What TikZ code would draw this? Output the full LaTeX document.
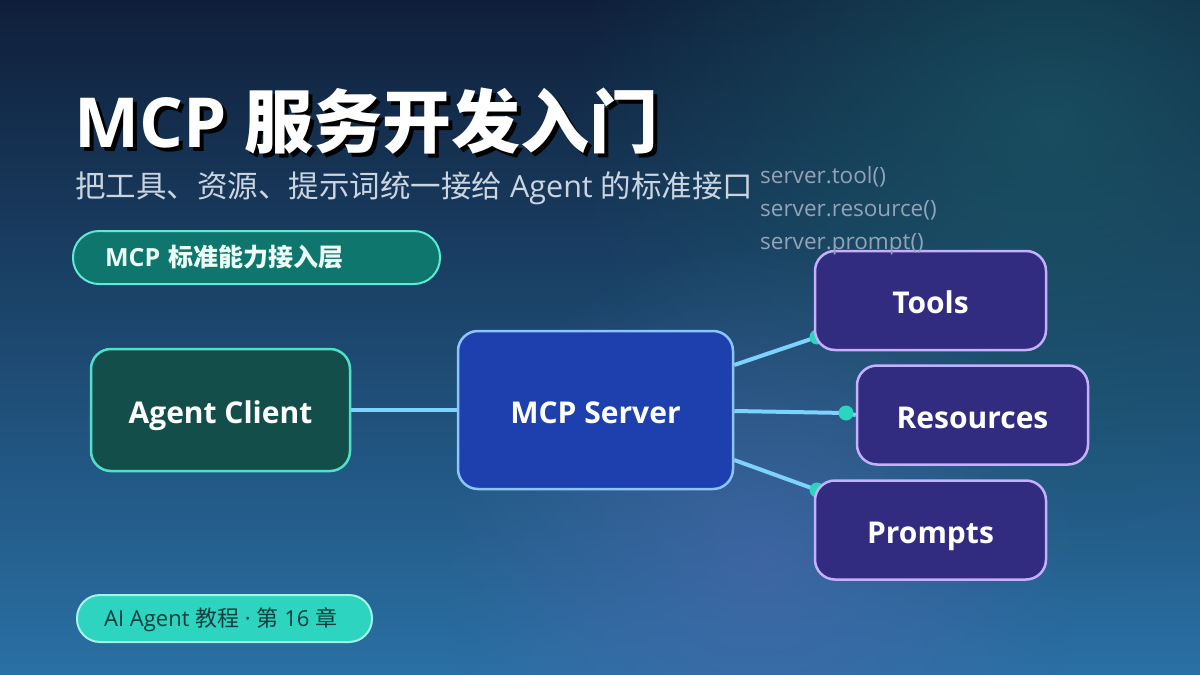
\documentclass[tikz,border=0pt]{standalone}
\usepackage{fontspec}
\setmainfont{Open Sans}
\newfontfamily\cjk{Noto Sans CJK SC}
\usetikzlibrary{fadings}
\tikzfading[name=softglow, inner color=transparent!0, outer color=transparent!100]
\pgfdeclarelayer{back}
\pgfdeclarelayer{mid}
\pgfsetlayers{back,mid,main}
\definecolor{bgtop}{HTML}{0F1F3A}
\definecolor{bgbot}{HTML}{2A70A4}
\definecolor{glowteal}{HTML}{1A5A66}
\definecolor{glowviolet}{HTML}{4C68AC}
\definecolor{clientfill}{HTML}{134E4A}
\definecolor{clientdraw}{HTML}{4FE0C8}
\definecolor{serverfill}{HTML}{1E40AF}
\definecolor{serverdraw}{HTML}{8CC4FC}
\definecolor{capfill}{HTML}{312C80}
\definecolor{capdraw}{HTML}{C4B0FC}
\definecolor{conncol}{HTML}{7DD3FC}
\definecolor{dotcol}{HTML}{2DD4BF}
\definecolor{pillAfill}{HTML}{0F766E}
\definecolor{pillAdraw}{HTML}{5EEAD4}
\definecolor{pillAtext}{HTML}{ECFDF5}
\definecolor{pillBfill}{HTML}{2DD4BF}
\definecolor{pillBdraw}{HTML}{A5F3E8}
\definecolor{pillBtext}{HTML}{0F3D3E}
\definecolor{subcol}{HTML}{CBD5E1}
\definecolor{codecol}{HTML}{94A3B8}
\tikzset{
  boxbase/.style={rectangle, rounded corners=20pt, line width=2.5pt, text=white,
    font=\bfseries\fontsize{30}{34}\selectfont, inner sep=0pt,
    text height=26.5pt, text depth=0pt},
  clientbox/.style={boxbase, fill=clientfill, draw=clientdraw, minimum width=259pt, minimum height=122pt},
  serverbox/.style={boxbase, fill=serverfill, draw=serverdraw, minimum width=275pt, minimum height=158pt},
  capbox/.style={boxbase, fill=capfill, draw=capdraw, minimum width=231pt, minimum height=99pt},
  conn/.style={draw=conncol, line width=4pt},
  dotmark/.style={fill=dotcol},
  codetext/.style={anchor=base west, text=codecol, font=\fontsize{22.5}{26}\selectfont, inner sep=0pt},
  pillA/.style={rectangle, rounded corners=26pt, fill=pillAfill, draw=pillAdraw, line width=2pt,
    minimum height=53pt, inner xsep=32pt, text width=303pt, align=left, text=pillAtext,
    font=\bfseries\fontsize{25}{30}\selectfont},
  pillB/.style={rectangle, rounded corners=23pt, fill=pillBfill, draw=pillBdraw, line width=2pt,
    minimum height=47pt, minimum width=295pt, inner sep=0pt},
  pillBlabel/.style={anchor=west, inner sep=0pt, text=pillBtext, font=\fontsize{22}{26}\selectfont}
}
\begin{document}
\begin{tikzpicture}[x=1pt,y=-1pt]
\useasboundingbox (0,0) rectangle (1200,675);
\begin{pgfonlayer}{back}
  \shade[top color=bgtop, bottom color=bgbot] (0,0) rectangle (1200,675);
  \fill[glowteal, path fading=softglow, opacity=0.7] (1050,120) circle (480);
  \fill[glowviolet, path fading=softglow, opacity=0.6] (760,560) circle (320);
\end{pgfonlayer}

% title
\node[anchor=base west, inner sep=0pt, text=black, font=\bfseries\fontsize{69}{78}\selectfont] (titleshadow) at (78,151) {MCP {\cjk\bfseries 服务开发入门}};
\node[anchor=base west, inner sep=0pt, text=white, font=\bfseries\fontsize{69}{78}\selectfont] (title) at (74,147) {MCP {\cjk\bfseries 服务开发入门}};
\node[anchor=base west, inner sep=0pt, text=subcol, font=\fontsize{30.5}{34}\selectfont] (subtitle) at (75,197) {{\cjk 把工具、资源、提示词统一接给} Agent {\cjk 的标准接口}};

% pills
\node[pillA] (layer) at (256.5,257.5) {MCP {\cjk\bfseries 标准能力接入层}};
\node[pillB] (chapter) at (224.5,618.5) {};
\node[pillBlabel] (chaptertext) at ([xshift=28pt,yshift=-1pt]chapter.west) {AI Agent {\cjk 教程} · {\cjk 第} 16 {\cjk 章}};

% boxes
\node[clientbox] (client) at (220.5,410) {Agent Client};
\node[serverbox] (server) at (595.5,410) {MCP Server};
\node[capbox] (tools) at (930.5,300.5) {Tools};
\node[capbox] (resources) at (972.5,415) {Resources};
\node[capbox] (prompts) at (930.5,530) {Prompts};

\coordinate (dt) at (817,337);
\coordinate (dr) at (846,413);
\coordinate (dp) at (817,490);

\begin{pgfonlayer}{mid}
  \draw[conn] (client.east) -- (server.west);
  \draw[conn] ([yshift=45pt]server.east) -- (dt);
  \draw[conn] ([yshift=-1pt]server.east) -- (dr) -- (resources.west);
  \draw[conn] ([yshift=-50pt]server.east) -- (dp);
  \fill[dotmark] (dt) circle (7.5);
  \fill[dotmark] (dr) circle (7.5);
  \fill[dotmark] (dp) circle (7.5);
\end{pgfonlayer}

% code lines
\node[codetext] (code1) at (760,183) {server.tool()};
\node[codetext] (code2) at (760,216) {server.resource()};
\node[codetext] (code3) at (760,249) {server.prompt()};
\end{tikzpicture}
\end{document}
